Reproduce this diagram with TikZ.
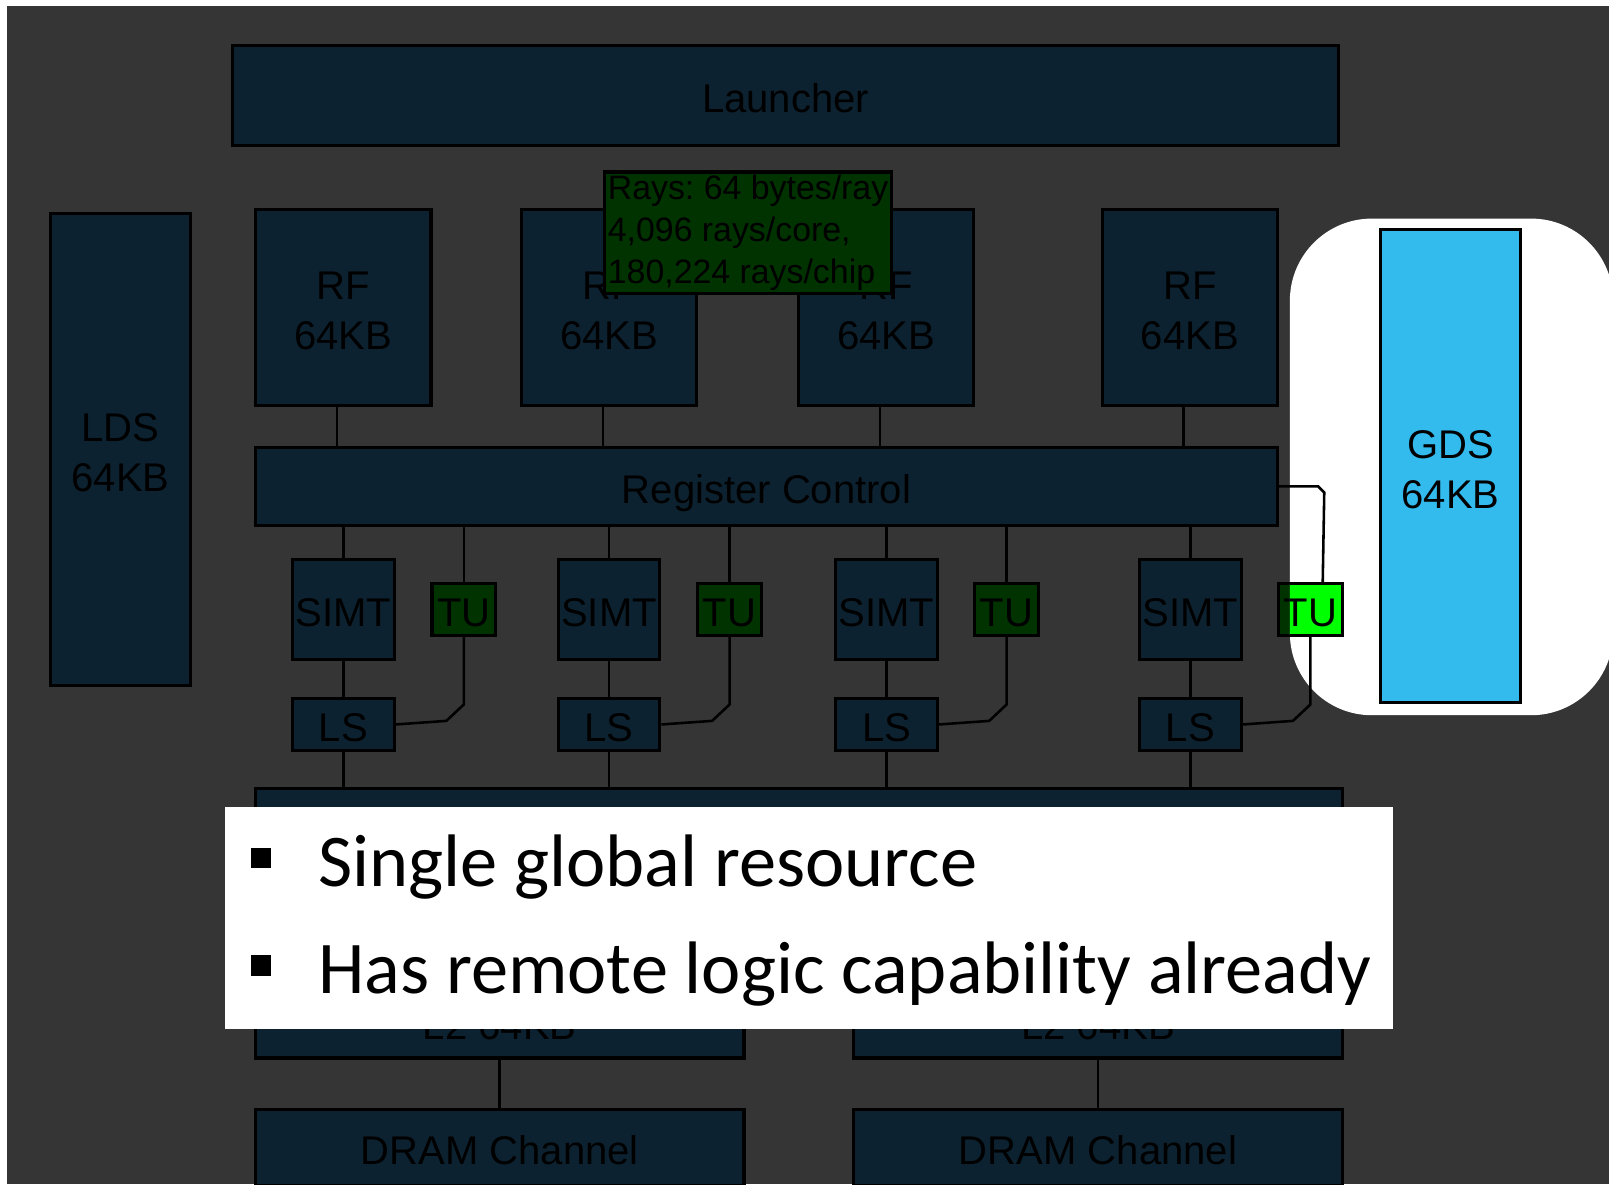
\documentclass[tikz,border=0pt]{standalone}
\usepackage{fontspec}
\setmainfont{Liberation Sans}
\newfontfamily\bulletfont{Carlito}
\usetikzlibrary{calc}
\definecolor{bggray}{RGB}{53,53,53}
\definecolor{dimbox}{RGB}{13,34,48}
\definecolor{dimgreen}{RGB}{0,51,0}
\definecolor{tugreen}{RGB}{0,255,0}
\definecolor{gdsblue}{RGB}{51,187,238}
% raises the first line of a two-line label
\newcommand{\firstline}{\rule{0pt}{34pt}}
\begin{document}
\frenchspacing
\begin{tikzpicture}[x=1pt,y=-1pt,
  blk/.style={draw=black,line width=3pt,fill=dimbox,inner sep=0pt,align=center,
    text=black,font=\fontsize{39}{49}\selectfont},
  oneline/.style={blk,text height=34pt,text depth=0pt},
  sz/.style 2 args={minimum width=#1pt,minimum height=#2pt},
  tubox/.style={oneline,fill=dimgreen,sz={62}{50}},
  simtbox/.style={oneline,sz={99}{98}},
  lsbox/.style={oneline,sz={99}{50}},
  rfbox/.style={blk,sz={171}{191}},
  wire/.style={draw=black,line width=2.5pt},
  bullettext/.style={anchor=base west,inner sep=0pt,text=black,
    font=\bulletfont\fontsize{72.5}{80}\selectfont}]
\useasboundingbox (0,0) rectangle (1568,1154);
\clip (0,0) rectangle (1568,1154);
\fill[white] (0,0) rectangle (1568,1154);
\fill[bggray] (7,6) rectangle (1568,1154);
% spotlight around the global data share
\fill[white,rounded corners=80pt] (1257,213) rectangle (1572,697);

% top row
\node[oneline,sz={1077}{98}] (launcher) at (765.5,93) {Launcher};
\node[blk,sz={137}{460}] (lds) at (117.5,438) {\firstline LDS\\64KB};
\node[rfbox] (rf1) at (334.5,299.5) {\firstline RF\\64KB};
\node[rfbox] (rf2) at (593.5,299.5) {\firstline RF\\64KB};
\node[rfbox] (rf3) at (863.5,299.5) {\firstline RF\\64KB};
\node[rfbox] (rf4) at (1159.5,299.5) {\firstline RF\\64KB};
\node[oneline,sz={996}{76}] (rc) at (747,474) {Register Control};

% per-core units
\foreach \i/\x/\t in {1/334.5/452, 2/593.5/711, 3/864/981, 4/1160/1277}{
  \node[simtbox] (simt\i) at (\x,594) {SIMT};
  \node[tubox] (tu\i) at (\t,594) {TU};
  \node[lsbox] (ls\i) at (\x,706) {LS};
}

% memory side
\node[blk,sz={1059}{92}] (bar) at (778.5,814) {};
\node[oneline,sz={476}{70}] (l2a) at (487,996) {L2 64KB};
\node[oneline,sz={476}{70}] (l2b) at (1070,996) {L2 64KB};
\node[oneline,sz={476}{74}] (drama) at (487,1118) {DRAM Channel};
\node[oneline,sz={476}{74}] (dramb) at (1070,1118) {DRAM Channel};

% global data share
\node[blk,fill=gdsblue,sz={137}{461}] (gds) at (1413.5,454.5) {\firstline GDS\\64KB};

% connectors
\foreach \i in {1,2,3,4}{
  \coordinate (rfb\i) at ([xshift=-6pt]rf\i.south);
  \draw[wire] (rfb\i) -- (rfb\i |- rc.north);
  \draw[wire] (simt\i.north) -- (simt\i.north |- rc.south);
  \draw[wire] (simt\i.south) -- (ls\i.north);
  \draw[wire] (ls\i.south) -- (ls\i.south |- bar.north);
  \draw[wire] (tu\i.south) -- ++(0,66) -- ++(-17,16) -- (ls\i.east);
}
\foreach \i in {1,2,3}{
  \draw[wire] (tu\i.north) -- (tu\i.north |- rc.south);
}
\coordinate (tu4in) at ([xshift=12pt]tu4.north);
\draw[wire] (rc.east) -- ++(38,0) -- ++(6,6) -- (tu4in);
\draw[wire] (l2a.south) -- (drama.north);
\draw[wire] (l2b.south) -- (dramb.north);

% ray budget note
\node[blk,fill=dimgreen,sz={278}{118},align=left,inner sep=3pt,
  font=\fontsize{33}{41}\selectfont] (rays) at (729,227)
  {Rays: 64 bytes/ray\\4,096 rays/core,\\180,224 rays/chip};

% texture unit seen through the spotlight
\begin{scope}
  \clip[rounded corners=80pt] (1257,213) rectangle (1572,697);
  \node[tubox,fill=tugreen] (tu4lit) at (1277,594) {TU};
\end{scope}

% bullet panel
\fill[white] (219,786) rectangle (1357,1003);
\fill[black] (245,826) rectangle (264,846);
\fill[black] (245,931) rectangle (264,951);
\node[bullettext] (b1) at (310,864) {Single global resource};
\node[bullettext] (b2) at (310,968) {Has remote logic capability already};
\end{tikzpicture}
\end{document}
